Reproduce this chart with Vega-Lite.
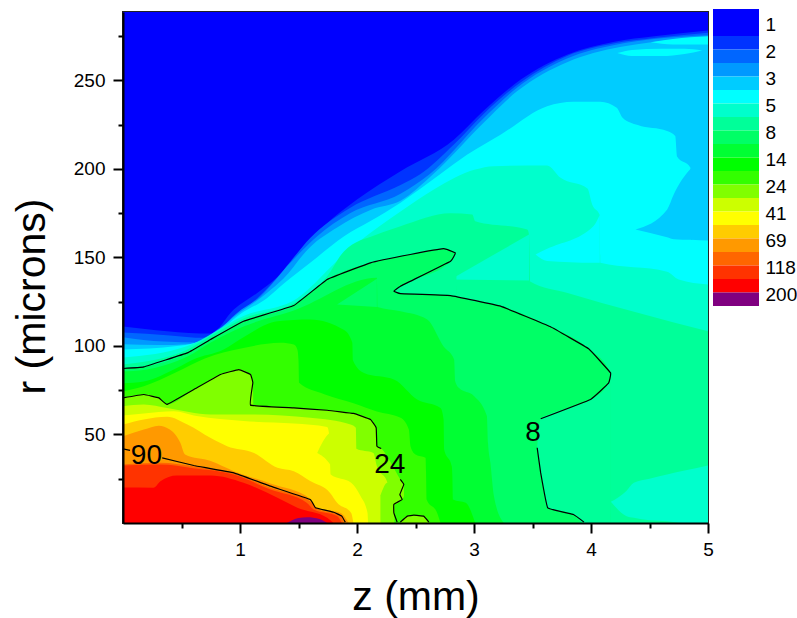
{"$schema":"https://vega.github.io/schema/vega-lite/v6.json","background":"white","padding":{"left":10,"top":9,"right":0,"bottom":0},"bounds":"flush","spacing":5,"datasets":{"bands":[
{"s":"a00","c":"c00","z":0,"lo":0,"hi":288.7},{"s":"a00","c":"c00","z":5,"lo":0,"hi":288.7},
{"s":"a01","c":"c01","z":0,"lo":0,"hi":111},{"s":"a01","c":"c01","z":0.75,"lo":0,"hi":107},{"s":"a01","c":"c01","z":0.947,"lo":0,"hi":120.6},{"s":"a01","c":"c01","z":1.147,"lo":0,"hi":130},{"s":"a01","c":"c01","z":1.32,"lo":0,"hi":139},{"s":"a01","c":"c01","z":1.49,"lo":0,"hi":152.6},{"s":"a01","c":"c01","z":1.716,"lo":0,"hi":167.7},{"s":"a01","c":"c01","z":2,"lo":0,"hi":182.7},{"s":"a01","c":"c01","z":2.372,"lo":0,"hi":198.7},{"s":"a01","c":"c01","z":2.83,"lo":0,"hi":216.6},{"s":"a01","c":"c01","z":3.08,"lo":0,"hi":232.7},{"s":"a01","c":"c01","z":3.4,"lo":0,"hi":250.5},{"s":"a01","c":"c01","z":3.8,"lo":0,"hi":264.7},{"s":"a01","c":"c01","z":4.2,"lo":0,"hi":271.9},{"s":"a01","c":"c01","z":4.54,"lo":0,"hi":275},{"s":"a01","c":"c01","z":5,"lo":0,"hi":278.2},
{"s":"a02","c":"c02","z":0,"lo":0,"hi":107.6},{"s":"a02","c":"c02","z":0.4,"lo":0,"hi":106},{"s":"a02","c":"c02","z":0.69,"lo":0,"hi":104.6},{"s":"a02","c":"c02","z":0.8,"lo":0,"hi":109},{"s":"a02","c":"c02","z":1.03,"lo":0,"hi":120},{"s":"a02","c":"c02","z":1.147,"lo":0,"hi":127},{"s":"a02","c":"c02","z":1.375,"lo":0,"hi":143},{"s":"a02","c":"c02","z":1.6,"lo":0,"hi":161},{"s":"a02","c":"c02","z":1.94,"lo":0,"hi":178},{"s":"a02","c":"c02","z":2.372,"lo":0,"hi":191},{"s":"a02","c":"c02","z":2.54,"lo":0,"hi":197},{"s":"a02","c":"c02","z":2.83,"lo":0,"hi":214},{"s":"a02","c":"c02","z":3.08,"lo":0,"hi":231},{"s":"a02","c":"c02","z":3.4,"lo":0,"hi":249},{"s":"a02","c":"c02","z":3.8,"lo":0,"hi":264},{"s":"a02","c":"c02","z":4.2,"lo":0,"hi":271},{"s":"a02","c":"c02","z":4.54,"lo":0,"hi":274},{"s":"a02","c":"c02","z":5,"lo":0,"hi":277},
{"s":"a03","c":"c03","z":0,"lo":0,"hi":105},{"s":"a03","c":"c03","z":0.35,"lo":0,"hi":102.5},{"s":"a03","c":"c03","z":0.65,"lo":0,"hi":102},{"s":"a03","c":"c03","z":0.8,"lo":0,"hi":108},{"s":"a03","c":"c03","z":0.975,"lo":0,"hi":118.7},{"s":"a03","c":"c03","z":1.175,"lo":0,"hi":128},{"s":"a03","c":"c03","z":1.43,"lo":0,"hi":147},{"s":"a03","c":"c03","z":1.66,"lo":0,"hi":162},{"s":"a03","c":"c03","z":1.94,"lo":0,"hi":175},{"s":"a03","c":"c03","z":2.372,"lo":0,"hi":186},{"s":"a03","c":"c03","z":2.62,"lo":0,"hi":197},{"s":"a03","c":"c03","z":3.08,"lo":0,"hi":228.5},{"s":"a03","c":"c03","z":3.37,"lo":0,"hi":246},{"s":"a03","c":"c03","z":3.8,"lo":0,"hi":262.5},{"s":"a03","c":"c03","z":4.2,"lo":0,"hi":270},{"s":"a03","c":"c03","z":5,"lo":0,"hi":275.5},
{"s":"a04","c":"c04","z":0,"lo":0,"hi":101},{"s":"a04","c":"c04","z":0.3,"lo":0,"hi":100.5},{"s":"a04","c":"c04","z":0.55,"lo":0,"hi":101},{"s":"a04","c":"c04","z":0.75,"lo":0,"hi":106},{"s":"a04","c":"c04","z":1,"lo":0,"hi":119},{"s":"a04","c":"c04","z":1.12,"lo":0,"hi":124.4},{"s":"a04","c":"c04","z":1.23,"lo":0,"hi":130},{"s":"a04","c":"c04","z":1.37,"lo":0,"hi":138},{"s":"a04","c":"c04","z":1.6,"lo":0,"hi":156},{"s":"a04","c":"c04","z":1.83,"lo":0,"hi":167},{"s":"a04","c":"c04","z":2.12,"lo":0,"hi":177},{"s":"a04","c":"c04","z":2.372,"lo":0,"hi":182},{"s":"a04","c":"c04","z":2.65,"lo":0,"hi":197},{"s":"a04","c":"c04","z":3.08,"lo":0,"hi":226},{"s":"a04","c":"c04","z":3.37,"lo":0,"hi":244},{"s":"a04","c":"c04","z":3.8,"lo":0,"hi":260.5},{"s":"a04","c":"c04","z":4.02,"lo":0,"hi":265.5},{"s":"a04","c":"c04","z":4.5,"lo":0,"hi":271.5},{"s":"a04","c":"c04","z":5,"lo":0,"hi":274.5},
{"s":"a05","c":"c05","z":0,"lo":0,"hi":98},{"s":"a05","c":"c05","z":0.46,"lo":0,"hi":100},{"s":"a05","c":"c05","z":0.75,"lo":0,"hi":105},{"s":"a05","c":"c05","z":1,"lo":0,"hi":118},{"s":"a05","c":"c05","z":1.23,"lo":0,"hi":127},{"s":"a05","c":"c05","z":1.37,"lo":0,"hi":135},{"s":"a05","c":"c05","z":1.6,"lo":0,"hi":147},{"s":"a05","c":"c05","z":1.89,"lo":0,"hi":162},{"s":"a05","c":"c05","z":2.115,"lo":0,"hi":170.6},{"s":"a05","c":"c05","z":2.372,"lo":0,"hi":181},{"s":"a05","c":"c05","z":2.71,"lo":0,"hi":197},{"s":"a05","c":"c05","z":2.94,"lo":0,"hi":208},{"s":"a05","c":"c05","z":3.23,"lo":0,"hi":219.5},{"s":"a05","c":"c05","z":3.625,"lo":0,"hi":235.5},{"s":"a05","c":"c05","z":3.85,"lo":0,"hi":238},{"s":"a05","c":"c05","z":4.08,"lo":0,"hi":238},{"s":"a05","c":"c05","z":4.22,"lo":0,"hi":234.6},{"s":"a05","c":"c05","z":4.27,"lo":0,"hi":229},{"s":"a05","c":"c05","z":4.4,"lo":0,"hi":224.8},{"s":"a05","c":"c05","z":4.65,"lo":0,"hi":221.4},{"s":"a05","c":"c05","z":4.72,"lo":0,"hi":218.6},{"s":"a05","c":"c05","z":4.735,"lo":0,"hi":207},{"s":"a05","c":"c05","z":4.85,"lo":0,"hi":200.7},{"s":"a05","c":"c05","z":4.855,"lo":0,"hi":160},{"s":"a05","c":"c05","z":5,"lo":0,"hi":159.6},
{"s":"a06","c":"c04","z":4.38,"lo":165.8,"hi":165.8},{"s":"a06","c":"c04","z":4.65,"lo":161.4,"hi":177},{"s":"a06","c":"c04","z":4.71,"lo":160.3,"hi":186},{"s":"a06","c":"c04","z":4.85,"lo":160,"hi":200},{"s":"a06","c":"c04","z":4.865,"lo":160,"hi":201},
{"s":"a07","c":"c05","z":4.224,"lo":265.5,"hi":265.5},{"s":"a07","c":"c05","z":4.35,"lo":263.8,"hi":267.3},{"s":"a07","c":"c05","z":4.6,"lo":263.8,"hi":268},{"s":"a07","c":"c05","z":4.8,"lo":265,"hi":268},{"s":"a07","c":"c05","z":4.95,"lo":267,"hi":267},
{"s":"a08","c":"c05","z":4.51,"lo":271.6,"hi":271.6},{"s":"a08","c":"c05","z":4.7,"lo":270.3,"hi":273.5},{"s":"a08","c":"c05","z":5,"lo":270.3,"hi":275},
{"s":"a09","c":"c06","z":0,"lo":0,"hi":93.5},{"s":"a09","c":"c06","z":0.55,"lo":0,"hi":100},{"s":"a09","c":"c06","z":1.03,"lo":0,"hi":117},{"s":"a09","c":"c06","z":1.49,"lo":0,"hi":127},{"s":"a09","c":"c06","z":1.6,"lo":0,"hi":133},{"s":"a09","c":"c06","z":1.75,"lo":0,"hi":143},{"s":"a09","c":"c06","z":2,"lo":0,"hi":158},{"s":"a09","c":"c06","z":2.372,"lo":0,"hi":176},{"s":"a09","c":"c06","z":2.66,"lo":0,"hi":188.6},{"s":"a09","c":"c06","z":3.01,"lo":0,"hi":199.7},{"s":"a09","c":"c06","z":3.17,"lo":0,"hi":201.6},{"s":"a09","c":"c06","z":3.625,"lo":0,"hi":202},{"s":"a09","c":"c06","z":3.74,"lo":0,"hi":195},{"s":"a09","c":"c06","z":3.97,"lo":0,"hi":189},{"s":"a09","c":"c06","z":4.01,"lo":0,"hi":180},{"s":"a09","c":"c06","z":4.075,"lo":0,"hi":174},{"s":"a09","c":"c06","z":4.08,"lo":0,"hi":147},{"s":"a09","c":"c06","z":4.65,"lo":0,"hi":142},{"s":"a09","c":"c06","z":4.75,"lo":0,"hi":137.6},{"s":"a09","c":"c06","z":5,"lo":0,"hi":134.8},
{"s":"a10","c":"c05","z":3.526,"lo":151.7,"hi":151.7},{"s":"a10","c":"c05","z":3.625,"lo":148,"hi":154.9},{"s":"a10","c":"c05","z":4.02,"lo":147,"hi":167.7},{"s":"a10","c":"c05","z":4.075,"lo":147,"hi":174},
{"s":"a11","c":"c07","z":0,"lo":0,"hi":89.6},{"s":"a11","c":"c07","z":0.55,"lo":0,"hi":98},{"s":"a11","c":"c07","z":0.748,"lo":0,"hi":105.7},{"s":"a11","c":"c07","z":1.03,"lo":0,"hi":115.5},{"s":"a11","c":"c07","z":1.49,"lo":0,"hi":125.3},{"s":"a11","c":"c07","z":1.745,"lo":0,"hi":139.4},{"s":"a11","c":"c07","z":1.89,"lo":0,"hi":153.6},{"s":"a11","c":"c07","z":2.17,"lo":0,"hi":163},{"s":"a11","c":"c07","z":2.372,"lo":0,"hi":167.7},{"s":"a11","c":"c07","z":2.8,"lo":0,"hi":175},{"s":"a11","c":"c07","z":2.985,"lo":0,"hi":174.3},{"s":"a11","c":"c07","z":3.01,"lo":0,"hi":170.5},{"s":"a11","c":"c07","z":3.455,"lo":0,"hi":165.8},{"s":"a11","c":"c07","z":3.47,"lo":0,"hi":163},{"s":"a11","c":"c07","z":3.48,"lo":0,"hi":136.5},{"s":"a11","c":"c07","z":3.8,"lo":0,"hi":130},{"s":"a11","c":"c07","z":5,"lo":0,"hi":108.4},
{"s":"a12","c":"c06","z":2.8,"lo":137.6,"hi":137.6},{"s":"a12","c":"c06","z":3.47,"lo":137,"hi":163},
{"s":"a13","c":"c08","z":0,"lo":0,"hi":87.3},{"s":"a13","c":"c08","z":0.178,"lo":0,"hi":88.2},{"s":"a13","c":"c08","z":0.55,"lo":0,"hi":96.1},{"s":"a13","c":"c08","z":0.748,"lo":0,"hi":103.7},{"s":"a13","c":"c08","z":1.03,"lo":0,"hi":114},{"s":"a13","c":"c08","z":1.46,"lo":0,"hi":122.9},{"s":"a13","c":"c08","z":1.745,"lo":0,"hi":137.6},{"s":"a13","c":"c08","z":2.115,"lo":0,"hi":147},{"s":"a13","c":"c08","z":2.455,"lo":0,"hi":151.7},{"s":"a13","c":"c08","z":2.74,"lo":0,"hi":155},{"s":"a13","c":"c08","z":2.84,"lo":0,"hi":152.6},{"s":"a13","c":"c08","z":2.85,"lo":0,"hi":128},{"s":"a13","c":"c08","z":3.227,"lo":0,"hi":122.5},{"s":"a13","c":"c08","z":3.65,"lo":0,"hi":111},{"s":"a13","c":"c08","z":3.98,"lo":0,"hi":98.4},{"s":"a13","c":"c08","z":4.167,"lo":0,"hi":84.8},{"s":"a13","c":"c08","z":4.17,"lo":0,"hi":0},
{"s":"a14","c":"c07","z":2.315,"lo":131,"hi":131},{"s":"a14","c":"c07","z":2.372,"lo":129.6,"hi":133.8},{"s":"a14","c":"c07","z":2.8,"lo":128.5,"hi":147.9},{"s":"a14","c":"c07","z":2.84,"lo":128,"hi":152.6},{"s":"a14","c":"c07","z":2.85,"lo":128,"hi":153},
{"s":"a15","c":"c07","z":3.54,"lo":42.5,"hi":42.5},{"s":"a15","c":"c07","z":3.57,"lo":28.3,"hi":58.9},{"s":"a15","c":"c07","z":3.63,"lo":8.6,"hi":61},{"s":"a15","c":"c07","z":3.85,"lo":4.8,"hi":66},{"s":"a15","c":"c07","z":3.94,"lo":0,"hi":68},{"s":"a15","c":"c07","z":3.996,"lo":0,"hi":69.8},{"s":"a15","c":"c07","z":4.15,"lo":0,"hi":79},{"s":"a15","c":"c07","z":4.17,"lo":0,"hi":84.8},
{"s":"a16","c":"c06","z":4.17,"lo":12,"hi":12},{"s":"a16","c":"c06","z":4.3,"lo":4,"hi":18},{"s":"a16","c":"c06","z":4.366,"lo":3,"hi":22.7},{"s":"a16","c":"c06","z":4.5,"lo":1.5,"hi":25},{"s":"a16","c":"c06","z":4.65,"lo":1,"hi":27.4},{"s":"a16","c":"c06","z":4.79,"lo":0,"hi":29.5},{"s":"a16","c":"c06","z":5,"lo":0,"hi":32.5},
{"s":"a17","c":"c09","z":0,"lo":0,"hi":85.7},{"s":"a17","c":"c09","z":0.178,"lo":0,"hi":86.5},{"s":"a17","c":"c09","z":0.55,"lo":0,"hi":94},{"s":"a17","c":"c09","z":0.75,"lo":0,"hi":102},{"s":"a17","c":"c09","z":1.03,"lo":0,"hi":111},{"s":"a17","c":"c09","z":1.46,"lo":0,"hi":120},{"s":"a17","c":"c09","z":2.17,"lo":0,"hi":138.5},{"s":"a17","c":"c09","z":2.175,"lo":0,"hi":122},{"s":"a17","c":"c09","z":2.372,"lo":0,"hi":119.6},{"s":"a17","c":"c09","z":2.6,"lo":0,"hi":115},{"s":"a17","c":"c09","z":2.74,"lo":0,"hi":99.7},{"s":"a17","c":"c09","z":2.83,"lo":0,"hi":92.4},{"s":"a17","c":"c09","z":2.84,"lo":0,"hi":80},{"s":"a17","c":"c09","z":2.87,"lo":0,"hi":76.4},{"s":"a17","c":"c09","z":3,"lo":0,"hi":71.7},{"s":"a17","c":"c09","z":3.11,"lo":0,"hi":60.4},{"s":"a17","c":"c09","z":3.12,"lo":0,"hi":45},{"s":"a17","c":"c09","z":3.14,"lo":0,"hi":34},{"s":"a17","c":"c09","z":3.17,"lo":0,"hi":15.2},{"s":"a17","c":"c09","z":3.255,"lo":0,"hi":0},
{"s":"a18","c":"c08","z":1.83,"lo":123.4,"hi":123.4},{"s":"a18","c":"c08","z":2.17,"lo":122,"hi":138},
{"s":"a19","c":"c10","z":0,"lo":0,"hi":79},{"s":"a19","c":"c10","z":0.178,"lo":0,"hi":80},{"s":"a19","c":"c10","z":0.46,"lo":0,"hi":87.6},{"s":"a19","c":"c10","z":0.6,"lo":0,"hi":92.4},{"s":"a19","c":"c10","z":0.86,"lo":0,"hi":98},{"s":"a19","c":"c10","z":1.03,"lo":0,"hi":105},{"s":"a19","c":"c10","z":1.32,"lo":0,"hi":114},{"s":"a19","c":"c10","z":1.6,"lo":0,"hi":115},{"s":"a19","c":"c10","z":1.89,"lo":0,"hi":109},{"s":"a19","c":"c10","z":1.96,"lo":0,"hi":101.8},{"s":"a19","c":"c10","z":1.965,"lo":0,"hi":92},{"s":"a19","c":"c10","z":2.06,"lo":0,"hi":84.8},{"s":"a19","c":"c10","z":2.32,"lo":0,"hi":81},{"s":"a19","c":"c10","z":2.514,"lo":0,"hi":69.8},{"s":"a19","c":"c10","z":2.714,"lo":0,"hi":65},{"s":"a19","c":"c10","z":2.74,"lo":0,"hi":58.5},{"s":"a19","c":"c10","z":2.745,"lo":0,"hi":41.5},{"s":"a19","c":"c10","z":2.81,"lo":0,"hi":32},{"s":"a19","c":"c10","z":2.815,"lo":0,"hi":26.5},{"s":"a19","c":"c10","z":2.82,"lo":0,"hi":13.3},{"s":"a19","c":"c10","z":2.93,"lo":0,"hi":11.4},{"s":"a19","c":"c10","z":3.01,"lo":0,"hi":0},
{"s":"a20","c":"c11","z":0,"lo":0,"hi":74.5},{"s":"a20","c":"c11","z":0.178,"lo":0,"hi":77.3},{"s":"a20","c":"c11","z":0.45,"lo":0,"hi":85},{"s":"a20","c":"c11","z":0.7,"lo":0,"hi":93},{"s":"a20","c":"c11","z":1.03,"lo":0,"hi":98.9},{"s":"a20","c":"c11","z":1.345,"lo":0,"hi":101.8},{"s":"a20","c":"c11","z":1.46,"lo":0,"hi":100.8},{"s":"a20","c":"c11","z":1.49,"lo":0,"hi":98},{"s":"a20","c":"c11","z":1.5,"lo":0,"hi":92},{"s":"a20","c":"c11","z":1.505,"lo":0,"hi":79.2},{"s":"a20","c":"c11","z":1.72,"lo":0,"hi":72.8},{"s":"a20","c":"c11","z":1.97,"lo":0,"hi":67.7},{"s":"a20","c":"c11","z":2.17,"lo":0,"hi":63},{"s":"a20","c":"c11","z":2.372,"lo":0,"hi":59.4},{"s":"a20","c":"c11","z":2.443,"lo":0,"hi":52.8},{"s":"a20","c":"c11","z":2.457,"lo":0,"hi":43.4},{"s":"a20","c":"c11","z":2.5,"lo":0,"hi":38.7},{"s":"a20","c":"c11","z":2.586,"lo":0,"hi":36.8},{"s":"a20","c":"c11","z":2.59,"lo":0,"hi":29},{"s":"a20","c":"c11","z":2.595,"lo":0,"hi":13.3},{"s":"a20","c":"c11","z":2.685,"lo":0,"hi":5.7},{"s":"a20","c":"c11","z":2.714,"lo":0,"hi":0},
{"s":"a21","c":"c12","z":0,"lo":0,"hi":70.7},{"s":"a21","c":"c12","z":0.178,"lo":0,"hi":72.6},{"s":"a21","c":"c12","z":0.306,"lo":0,"hi":70.7},{"s":"a21","c":"c12","z":0.377,"lo":0,"hi":67},{"s":"a21","c":"c12","z":0.605,"lo":0,"hi":75.4},{"s":"a21","c":"c12","z":0.833,"lo":0,"hi":83.9},{"s":"a21","c":"c12","z":0.99,"lo":0,"hi":86.7},{"s":"a21","c":"c12","z":1.09,"lo":0,"hi":83.9},{"s":"a21","c":"c12","z":1.11,"lo":0,"hi":79.2},{"s":"a21","c":"c12","z":1.115,"lo":0,"hi":66.5},{"s":"a21","c":"c12","z":1.46,"lo":0,"hi":65},{"s":"a21","c":"c12","z":1.745,"lo":0,"hi":63.7},{"s":"a21","c":"c12","z":1.97,"lo":0,"hi":61.9},{"s":"a21","c":"c12","z":2.115,"lo":0,"hi":58.5},{"s":"a21","c":"c12","z":2.164,"lo":0,"hi":53.8},{"s":"a21","c":"c12","z":2.17,"lo":0,"hi":43.4},{"s":"a21","c":"c12","z":2.207,"lo":0,"hi":42.1},{"s":"a21","c":"c12","z":2.29,"lo":0,"hi":34},{"s":"a21","c":"c12","z":2.37,"lo":0,"hi":24.6},{"s":"a21","c":"c12","z":2.4,"lo":0,"hi":21.8},{"s":"a21","c":"c12","z":2.405,"lo":0,"hi":0},
{"s":"a22","c":"c11","z":2.32,"lo":0,"hi":10.5},{"s":"a22","c":"c11","z":2.386,"lo":0,"hi":13.3},{"s":"a22","c":"c11","z":2.41,"lo":0,"hi":16},
{"s":"a23","c":"c12","z":2.37,"lo":0,"hi":0},{"s":"a23","c":"c12","z":2.43,"lo":0,"hi":3.9},{"s":"a23","c":"c12","z":2.486,"lo":0,"hi":4.4},{"s":"a23","c":"c12","z":2.57,"lo":0,"hi":3.9},{"s":"a23","c":"c12","z":2.614,"lo":0,"hi":0},
{"s":"a24","c":"c13","z":0,"lo":0,"hi":66},{"s":"a24","c":"c13","z":0.178,"lo":0,"hi":67},{"s":"a24","c":"c13","z":0.377,"lo":0,"hi":65},{"s":"a24","c":"c13","z":0.75,"lo":0,"hi":61.3},{"s":"a24","c":"c13","z":1.09,"lo":0,"hi":61.3},{"s":"a24","c":"c13","z":1.6,"lo":0,"hi":59.4},{"s":"a24","c":"c13","z":1.945,"lo":0,"hi":55.6},{"s":"a24","c":"c13","z":1.99,"lo":0,"hi":53.8},{"s":"a24","c":"c13","z":1.995,"lo":0,"hi":42},{"s":"a24","c":"c13","z":2.14,"lo":0,"hi":39.6},{"s":"a24","c":"c13","z":2.17,"lo":0,"hi":32},{"s":"a24","c":"c13","z":2.26,"lo":0,"hi":22.7},{"s":"a24","c":"c13","z":2.265,"lo":0,"hi":0},
{"s":"a25","c":"c12","z":2.2,"lo":0,"hi":15.5},{"s":"a25","c":"c12","z":2.26,"lo":0,"hi":22.7},{"s":"a25","c":"c12","z":2.27,"lo":0,"hi":22.7},
{"s":"a26","c":"c14","z":0,"lo":0,"hi":60.7},{"s":"a26","c":"c14","z":0.178,"lo":0,"hi":61.9},{"s":"a26","c":"c14","z":0.434,"lo":0,"hi":63.2},{"s":"a26","c":"c14","z":0.63,"lo":0,"hi":60.4},{"s":"a26","c":"c14","z":1.03,"lo":0,"hi":57.6},{"s":"a26","c":"c14","z":1.46,"lo":0,"hi":56.2},{"s":"a26","c":"c14","z":1.745,"lo":0,"hi":54.3},{"s":"a26","c":"c14","z":1.76,"lo":0,"hi":51},{"s":"a26","c":"c14","z":1.77,"lo":0,"hi":33},{"s":"a26","c":"c14","z":1.775,"lo":0,"hi":27.4},{"s":"a26","c":"c14","z":1.95,"lo":0,"hi":22.7},{"s":"a26","c":"c14","z":2.03,"lo":0,"hi":15.2},{"s":"a26","c":"c14","z":2.09,"lo":0,"hi":5.7},{"s":"a26","c":"c14","z":2.095,"lo":0,"hi":0},
{"s":"a27","c":"c13","z":1.66,"lo":39.6,"hi":39.6},{"s":"a27","c":"c13","z":1.76,"lo":34,"hi":50.5},{"s":"a27","c":"c13","z":1.77,"lo":33,"hi":51},
{"s":"a28","c":"c15","z":0,"lo":0,"hi":55.6},{"s":"a28","c":"c15","z":0.178,"lo":0,"hi":58.5},{"s":"a28","c":"c15","z":0.377,"lo":0,"hi":60},{"s":"a28","c":"c15","z":0.55,"lo":0,"hi":55.6},{"s":"a28","c":"c15","z":0.75,"lo":0,"hi":48},{"s":"a28","c":"c15","z":0.89,"lo":0,"hi":43.4},{"s":"a28","c":"c15","z":1.12,"lo":0,"hi":39.6},{"s":"a28","c":"c15","z":1.32,"lo":0,"hi":31.2},{"s":"a28","c":"c15","z":1.46,"lo":0,"hi":29.3},{"s":"a28","c":"c15","z":1.6,"lo":0,"hi":23.7},{"s":"a28","c":"c15","z":1.77,"lo":0,"hi":17},{"s":"a28","c":"c15","z":1.83,"lo":0,"hi":11.4},{"s":"a28","c":"c15","z":1.95,"lo":0,"hi":5.7},{"s":"a28","c":"c15","z":1.97,"lo":0,"hi":0},
{"s":"a29","c":"c16","z":0,"lo":0,"hi":49},{"s":"a29","c":"c16","z":0.178,"lo":0,"hi":52.8},{"s":"a29","c":"c16","z":0.306,"lo":0,"hi":55},{"s":"a29","c":"c16","z":0.4,"lo":0,"hi":52.8},{"s":"a29","c":"c16","z":0.49,"lo":0,"hi":45.3},{"s":"a29","c":"c16","z":0.53,"lo":0,"hi":38.7},{"s":"a29","c":"c16","z":0.75,"lo":0,"hi":35},{"s":"a29","c":"c16","z":0.947,"lo":0,"hi":29.3},{"s":"a29","c":"c16","z":1.26,"lo":0,"hi":22.3},{"s":"a29","c":"c16","z":1.6,"lo":0,"hi":13.7},{"s":"a29","c":"c16","z":1.654,"lo":0,"hi":8.6},{"s":"a29","c":"c16","z":1.86,"lo":0,"hi":5.7},{"s":"a29","c":"c16","z":1.93,"lo":0,"hi":0},
{"s":"a30","c":"c17","z":0,"lo":0,"hi":33},{"s":"a30","c":"c17","z":0.32,"lo":0,"hi":34},{"s":"a30","c":"c17","z":0.6,"lo":0,"hi":32},{"s":"a30","c":"c17","z":0.947,"lo":0,"hi":28},{"s":"a30","c":"c17","z":1.26,"lo":0,"hi":19.9},{"s":"a30","c":"c17","z":1.6,"lo":0,"hi":12.3},{"s":"a30","c":"c17","z":1.66,"lo":0,"hi":8},{"s":"a30","c":"c17","z":1.86,"lo":0,"hi":4.2},{"s":"a30","c":"c17","z":1.89,"lo":0,"hi":0},
{"s":"a31","c":"c18","z":0,"lo":0,"hi":32.5},{"s":"a31","c":"c18","z":0.32,"lo":0,"hi":33},{"s":"a31","c":"c18","z":0.6,"lo":0,"hi":31},{"s":"a31","c":"c18","z":0.947,"lo":0,"hi":27.4},{"s":"a31","c":"c18","z":1.26,"lo":0,"hi":18.9},{"s":"a31","c":"c18","z":1.57,"lo":0,"hi":11.4},{"s":"a31","c":"c18","z":1.63,"lo":0,"hi":7.6},{"s":"a31","c":"c18","z":1.83,"lo":0,"hi":3.9},{"s":"a31","c":"c18","z":1.87,"lo":0,"hi":0},
{"s":"a32","c":"c19","z":0,"lo":0,"hi":20},{"s":"a32","c":"c19","z":0.26,"lo":0,"hi":19.9},{"s":"a32","c":"c19","z":0.32,"lo":0,"hi":23.6},{"s":"a32","c":"c19","z":0.46,"lo":0,"hi":26.8},{"s":"a32","c":"c19","z":0.75,"lo":0,"hi":26.8},{"s":"a32","c":"c19","z":1.03,"lo":0,"hi":22.7},{"s":"a32","c":"c19","z":1.32,"lo":0,"hi":14.2},{"s":"a32","c":"c19","z":1.49,"lo":0,"hi":8.6},{"s":"a32","c":"c19","z":1.745,"lo":0,"hi":2.9},{"s":"a32","c":"c19","z":1.8,"lo":0,"hi":0},
{"s":"a33","c":"c20","z":1.4,"lo":0,"hi":0},{"s":"a33","c":"c20","z":1.5,"lo":0,"hi":2.8},{"s":"a33","c":"c20","z":1.575,"lo":0,"hi":3.3},{"s":"a33","c":"c20","z":1.68,"lo":0,"hi":2.2},{"s":"a33","c":"c20","z":1.745,"lo":0,"hi":0}
],"lines":[
{"k":"t8","i":1,"z":0,"r":87.3},{"k":"t8","i":2,"z":0.178,"r":88.2},{"k":"t8","i":3,"z":0.55,"r":96.1},{"k":"t8","i":4,"z":0.748,"r":103.7},{"k":"t8","i":5,"z":1.03,"r":114},{"k":"t8","i":6,"z":1.46,"r":122.9},{"k":"t8","i":7,"z":1.745,"r":137.6},{"k":"t8","i":8,"z":2.115,"r":147},{"k":"t8","i":9,"z":2.455,"r":151.7},{"k":"t8","i":10,"z":2.74,"r":155},{"k":"t8","i":11,"z":2.84,"r":152.6},{"k":"t8","i":12,"z":2.8,"r":147.9},{"k":"t8","i":13,"z":2.372,"r":133.8},{"k":"t8","i":14,"z":2.315,"r":131},{"k":"t8","i":15,"z":2.372,"r":129.6},{"k":"t8","i":16,"z":2.8,"r":128.5},{"k":"t8","i":17,"z":3.227,"r":122.5},{"k":"t8","i":18,"z":3.65,"r":111},{"k":"t8","i":19,"z":3.98,"r":98.4},{"k":"t8","i":20,"z":4.167,"r":84.8},{"k":"t8","i":21,"z":4.15,"r":79},{"k":"t8","i":22,"z":3.996,"r":69.8},{"k":"t8","i":23,"z":3.57,"r":58.9},
{"k":"b8","i":1,"z":3.54,"r":42.5},{"k":"b8","i":2,"z":3.57,"r":28.3},{"k":"b8","i":3,"z":3.63,"r":8.6},{"k":"b8","i":4,"z":3.85,"r":4.8},{"k":"b8","i":5,"z":3.94,"r":0.5},
{"k":"a24","i":1,"z":0,"r":70.7},{"k":"a24","i":2,"z":0.178,"r":72.6},{"k":"a24","i":3,"z":0.306,"r":70.7},{"k":"a24","i":4,"z":0.377,"r":67},{"k":"a24","i":5,"z":0.605,"r":75.4},{"k":"a24","i":6,"z":0.833,"r":83.9},{"k":"a24","i":7,"z":0.99,"r":86.7},{"k":"a24","i":8,"z":1.09,"r":83.9},{"k":"a24","i":9,"z":1.11,"r":79.2},{"k":"a24","i":10,"z":1.09,"r":66.6},{"k":"a24","i":11,"z":1.46,"r":65},{"k":"a24","i":12,"z":1.745,"r":63.7},{"k":"a24","i":13,"z":1.97,"r":61.9},{"k":"a24","i":14,"z":2.115,"r":58.5},{"k":"a24","i":15,"z":2.164,"r":53.8},{"k":"a24","i":16,"z":2.17,"r":43.4},{"k":"a24","i":17,"z":2.207,"r":42.1},
{"k":"b24","i":1,"z":2.37,"r":24.6},{"k":"b24","i":2,"z":2.4,"r":21.8},{"k":"b24","i":3,"z":2.366,"r":16.1},{"k":"b24","i":4,"z":2.386,"r":13.3},{"k":"b24","i":5,"z":2.315,"r":10.5},{"k":"b24","i":6,"z":2.315,"r":5.7},{"k":"b24","i":7,"z":2.343,"r":0.5},
{"k":"c24","i":1,"z":2.37,"r":0.5},{"k":"c24","i":2,"z":2.43,"r":3.9},{"k":"c24","i":3,"z":2.486,"r":4.4},{"k":"c24","i":4,"z":2.57,"r":3.9},{"k":"c24","i":5,"z":2.614,"r":0.5},
{"k":"a90","i":1,"z":0,"r":41.9},{"k":"a90","i":2,"z":0.06,"r":41},
{"k":"b90","i":1,"z":0.335,"r":36.8},{"k":"b90","i":2,"z":0.605,"r":32.5},{"k":"b90","i":3,"z":0.947,"r":28.3},{"k":"b90","i":4,"z":1.26,"r":20.8},{"k":"b90","i":5,"z":1.6,"r":13.3},{"k":"b90","i":6,"z":1.645,"r":8.6},{"k":"b90","i":7,"z":1.8,"r":6.1},{"k":"b90","i":8,"z":1.87,"r":3.9},{"k":"b90","i":9,"z":1.9,"r":0.5}
],"labels":[{"t":"90","z":0.2,"r":38},{"t":"24","z":2.28,"r":33},{"t":"8","z":3.505,"r":51}],
"key":[{"c":"c00","a":-2,"b":0},{"c":"c01","a":0,"b":1},{"c":"c02","a":1,"b":2},{"c":"c03","a":2,"b":3},{"c":"c04","a":3,"b":4},{"c":"c05","a":4,"b":5},{"c":"c06","a":5,"b":6},{"c":"c07","a":6,"b":7},{"c":"c08","a":7,"b":8},{"c":"c09","a":8,"b":9},{"c":"c10","a":9,"b":10},{"c":"c11","a":10,"b":11},{"c":"c12","a":11,"b":12},{"c":"c13","a":12,"b":13},{"c":"c14","a":13,"b":14},{"c":"c15","a":14,"b":15},{"c":"c16","a":15,"b":16},{"c":"c17","a":16,"b":17},{"c":"c18","a":17,"b":18},{"c":"c19","a":18,"b":19},{"c":"c20","a":19,"b":20}]},
"hconcat":[{"width":585,"height":511,"view":{"stroke":"#222","strokeWidth":2},"layer":[
{"data":{"name":"bands"},"mark":{"type":"area","strokeWidth":0,"interpolate":"monotone"},"encoding":{"x":{"field":"z","type":"quantitative","scale":{"domain":[0,5],"nice":false,"zero":false},"axis":{"title":"z (mm)","values":[0.5,1,1.5,2,2.5,3,3.5,4,4.5,5],"labelExpr":"datum.value%1===0?datum.value:''","tickSize":{"condition":{"test":"datum.value%1===0","value":10},"value":5},"grid":false,"domainColor":"black","domainWidth":2,"tickColor":"black","tickWidth":2,"labelFont":"Liberation Sans","labelFontSize":19,"labelColor":"black","labelPadding":7,"labelFlush":false,"labelOverlap":false,"labelBound":false,"titleFont":"Liberation Sans","titleFontSize":41,"titleFontWeight":"normal","titleColor":"black","titlePadding":18,"zindex":1}},"y":{"field":"hi","type":"quantitative","scale":{"domain":[0,288.7],"nice":false,"zero":false},"axis":{"title":"r (microns)","values":[25,50,75,100,125,150,175,200,225,250,275],"labelExpr":"datum.value%50===0?datum.value:''","tickSize":{"condition":{"test":"datum.value%50===0","value":10},"value":5},"grid":false,"domainColor":"black","domainWidth":2,"tickColor":"black","tickWidth":2,"labelFont":"Liberation Sans","labelFontSize":19,"labelColor":"black","labelPadding":8,"labelOverlap":false,"labelBound":false,"titleFont":"Liberation Sans","titleFontSize":41,"titleFontWeight":"normal","titleColor":"black","titleX":-70,"titleY":284,"zindex":1}},"y2":{"field":"lo"},"color":{"field":"c","type":"nominal","legend":null,"scale":{"domain":["c00","c01","c02","c03","c04","c05","c06","c07","c08","c09","c10","c11","c12","c13","c14","c15","c16","c17","c18","c19","c20"],"range":["#0000ff","#0033ff","#0066ff","#0099ff","#00ccff","#00ffff","#00ffcc","#00ff99","#00ff66","#00ff33","#00ff00","#33ff00","#80ff00","#ccff00","#ffff00","#ffcc00","#ff9900","#ff6600","#ff3300","#ff0000","#800080"]}},"detail":{"field":"s"}}},
{"data":{"name":"lines"},"mark":{"type":"line","color":"black","strokeWidth":1.2,"interpolate":"cardinal","tension":0.8},"encoding":{"x":{"field":"z","type":"quantitative"},"y":{"field":"r","type":"quantitative"},"detail":{"field":"k"},"order":{"field":"i","type":"quantitative"}}},
{"data":{"name":"labels"},"mark":{"type":"text","font":"Liberation Sans","fontSize":28,"color":"black"},"encoding":{"x":{"field":"z","type":"quantitative"},"y":{"field":"r","type":"quantitative"},"text":{"field":"t"}}}
]},
{"width":46,"height":294,"view":{"stroke":null},"data":{"name":"key"},"mark":{"type":"rect"},"encoding":{"y":{"field":"a","type":"quantitative","scale":{"domain":[-1.778,20],"reverse":true,"nice":false,"zero":false},"axis":{"title":null,"orient":"right","values":[-1,1,3,5,7,9,11,13,15,17,19],"labelExpr":"['1','2','3','5','8','14','24','41','69','118','200'][(datum.value+1)/2]","domain":false,"ticks":false,"grid":false,"labelFont":"Liberation Sans","labelFontSize":19,"labelColor":"black","labelPadding":6,"labelOffset":2,"labelAlign":"left","labelOverlap":false,"labelBound":false}},"y2":{"field":"b"},"color":{"field":"c","type":"nominal","legend":null}}}
],"resolve":{"scale":{"color":"shared"}}}
